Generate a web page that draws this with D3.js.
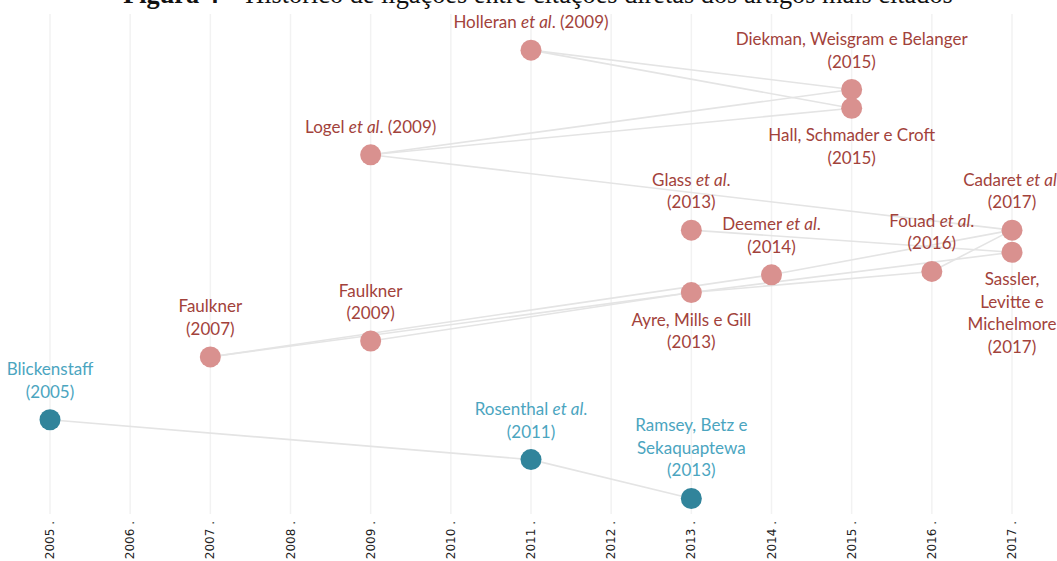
<!DOCTYPE html>
<html>
<head>
<meta charset="utf-8">
<script src="https://cdn.jsdelivr.net/npm/d3@7"></script>
<style>
  body { margin: 0; background: #fff; }
  svg { display: block; }
  .lbl { font-family: Lato, "Open Sans", sans-serif; font-size: 17px; text-anchor: middle; }
  .tick-lbl { font-family: "DejaVu Sans", sans-serif; font-size: 12px; fill: #222; }
</style>
</head>
<body>
<svg width="1057" height="561"></svg>
<script>
// articles (nodes)
const ids    = ["blick", "faul07", "faul09", "logel", "holl", "rosen", "glass", "ayre", "ramsey", "deemer", "diek", "hall", "fouad", "cadaret", "sassler"];
const years  = [2005, 2007, 2009, 2009, 2011, 2011, 2013, 2013, 2013, 2014, 2015, 2015, 2016, 2017, 2017];
// vertical level of each node (0 = bottom, 100 = top)
const levels = [18.8, 31.9, 35.2, 74.0, 95.8, 10.5, 58.3, 45.3, 2.4, 49.0, 87.6, 83.7, 49.7, 58.3, 53.7];
const groups = ["b", "a", "a", "a", "a", "b", "a", "a", "b", "a", "a", "a", "a", "a", "a"];
const labels = [
  ["Blickenstaff", "(2005)"],
  ["Faulkner", "(2007)"],
  ["Faulkner", "(2009)"],
  ["Logel |et al|. (2009)"],
  ["Holleran |et al|. (2009)"],
  ["Rosenthal |et al|.", "(2011)"],
  ["Glass |et al|.", "(2013)"],
  ["Ayre, Mills e Gill", "(2013)"],
  ["Ramsey, Betz e", "Sekaquaptewa", "(2013)"],
  ["Deemer |et al|.", "(2014)"],
  ["Diekman, Weisgram e Belanger", "(2015)"],
  ["Hall, Schmader e Croft", "(2015)"],
  ["Fouad |et al|.", "(2016)"],
  ["Cadaret |et al|.", "(2017)"],
  ["Sassler,", "Levitte e", "Michelmore", "(2017)"]
];
const labelSide = ["up", "up", "up", "up", "up", "up", "up", "down", "up", "up", "up", "down", "up", "up", "down"];

// citation links
const linkFrom = ["blick", "rosen", "holl", "holl", "logel", "logel", "logel", "faul07", "faul07", "faul09", "ayre", "ayre", "glass", "deemer", "fouad"];
const linkTo   = ["rosen", "ramsey", "diek", "hall", "diek", "hall", "cadaret", "ayre", "deemer", "ayre", "sassler", "fouad", "sassler", "cadaret", "cadaret"];

const tickYears = d3.range(2005, 2018);

const svg = d3.select("svg");

const x = d3.scaleLinear().domain([2005, 2017]).range([50, 1012]);
const y = d3.scaleLinear().domain([0, 100]).range([510, 30]);

const color = { a: "#d9918f", b: "#31849b" };
const textColor = { a: "#a2423b", b: "#4ba5bf" };

// title (cut off at the top in the original)
svg.append("text")
   .attr("x", 538)
   .attr("y", 3)
   .attr("text-anchor", "middle")
   .style("font-family", "'Liberation Serif', serif")
   .style("font-size", "26.3px")
   .style("fill", "#111")
   .html("<tspan font-weight='bold'>Figura 4</tspan> – Histórico de ligações entre citações diretas dos artigos mais citados");

// vertical grid
svg.append("g")
   .selectAll("line")
   .data(tickYears)
   .join("line")
   .attr("x1", d => x(d))
   .attr("x2", d => x(d))
   .attr("y1", 14)
   .attr("y2", 514)
   .attr("stroke", "#f2f2f2")
   .attr("stroke-width", 1.5);

// year labels
svg.append("g")
   .selectAll("text")
   .data(tickYears)
   .join("text")
   .attr("class", "tick-lbl")
   .attr("transform", d => `translate(${x(d) + 4}, 521) rotate(-90)`)
   .attr("text-anchor", "end")
   .text(d => d + " .");

const nodes = ids.map((id, i) => ({
  id, year: years[i], level: levels[i], group: groups[i], label: labels[i], side: labelSide[i]
}));
const byId = new Map(nodes.map(n => [n.id, n]));

// links
svg.append("g")
   .selectAll("line")
   .data(linkFrom.map((f, i) => [byId.get(f), byId.get(linkTo[i])]))
   .join("line")
   .attr("x1", d => x(d[0].year))
   .attr("y1", d => y(d[0].level))
   .attr("x2", d => x(d[1].year))
   .attr("y2", d => y(d[1].level))
   .attr("stroke", "#e4e4e4")
   .attr("stroke-width", 1.6);

// nodes
svg.append("g")
   .selectAll("circle")
   .data(nodes)
   .join("circle")
   .attr("cx", d => x(d.year))
   .attr("cy", d => y(d.level))
   .attr("r", 10.5)
   .attr("fill", d => color[d.group]);

// labels
const lineH = 22.5;
const lab = svg.append("g")
   .selectAll("text")
   .data(nodes)
   .join("text")
   .attr("class", "lbl")
   .attr("fill", d => textColor[d.group]);

lab.each(function (d) {
  const t = d3.select(this);
  const n = d.label.length;
  const cx = x(d.year);
  const cy = y(d.level);
  const first = d.side === "up" ? cy - 22 - (n - 1) * lineH : cy + 33;
  d.label.forEach((line, k) => {
    const ts = t.append("tspan").attr("x", cx).attr("y", first + k * lineH);
    line.split("|").forEach((part, j) => {
      ts.append("tspan")
        .attr("font-style", j % 2 ? "italic" : null)
        .text(part);
    });
  });
});
</script>
</body>
</html>
